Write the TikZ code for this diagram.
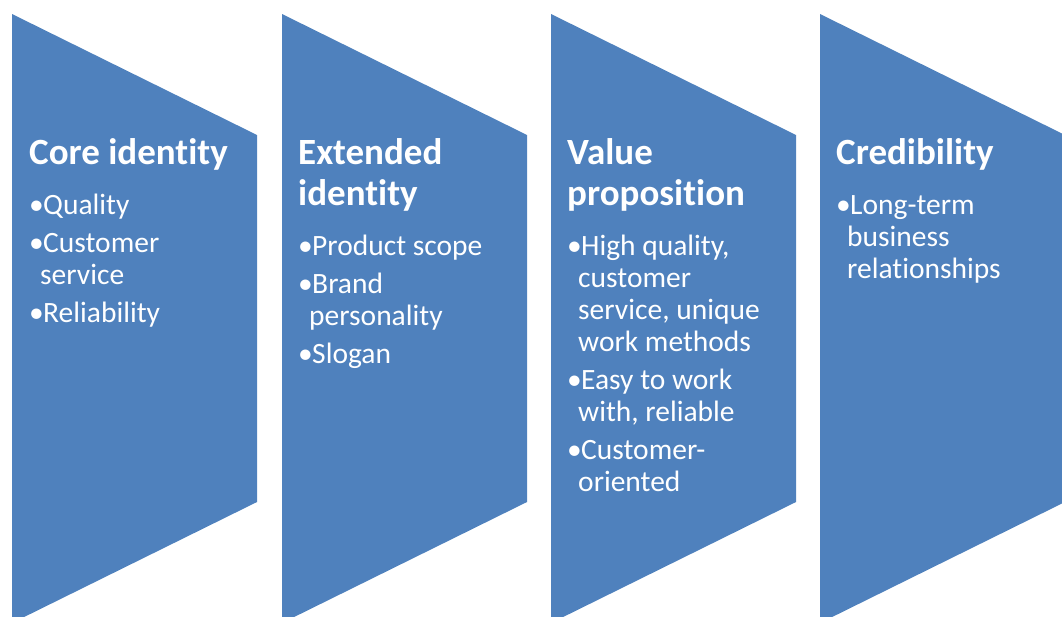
\documentclass[tikz,border=0pt]{standalone}
\usepackage{fontspec}
\setmainfont{Carlito}[Ligatures={NoCommon}]
\definecolor{chev}{HTML}{4F81BD}
\newcommand\titlefont{\fontsize{37}{41}\selectfont\bfseries}
\newcommand\bodyfont{\fontsize{29.5}{32}\selectfont}
\newcommand\bitem{\par\hangindent=11pt\hangafter=1\noindent\makebox[14pt][l]{•}}
\newcommand\blist[1]{\parbox[t]{240pt}{\bodyfont\raggedright\parskip=6pt\parindent=0pt #1}}
\tikzset{
  chevshape/.style={fill=chev},
  ttl/.style={anchor=base west,inner sep=0pt,text=white},
  bul/.style={anchor=base west,inner sep=0pt,text=white}
}
\begin{document}
\begin{tikzpicture}[x=1pt,y=-1pt]
\useasboundingbox (0,0) rectangle (1062,616);
\clip (0,0) rectangle (1062,616);
\foreach \xo/\nm in {12/a,282/b,551/c,820/d}{
  \fill[chevshape] (\xo,14) -- (\xo+245,135) -- (\xo+245,502) -- (\xo,623) -- cycle;
}
\node[ttl] (t1) at (29,164) {\parbox[t]{240pt}{\titlefont Core identity}};
\node[ttl] (t2) at (298,164) {\parbox[t]{240pt}{\titlefont Extended\\identity}};
\node[ttl] (t3) at (567,164) {\parbox[t]{240pt}{\titlefont Value\\proposition}};
\node[ttl] (t4) at (836,164) {\parbox[t]{240pt}{\titlefont Credibility}};
\node[bul] (l1) at (29,214) {\blist{\bitem Quality\bitem Customer\newline service\bitem Reliability}};
\node[bul] (l2) at (298,255) {\blist{\bitem Product scope\bitem Brand\newline personality\bitem Slogan}};
\node[bul] (l3) at (567,255) {\blist{\bitem High quality,\newline customer\newline service, unique\newline work methods\bitem Easy to work\newline with, reliable\bitem Customer-\newline oriented}};
\node[bul] (l4) at (836,214) {\blist{\bitem Long-term\newline business\newline relationships}};
\end{tikzpicture}
\end{document}
